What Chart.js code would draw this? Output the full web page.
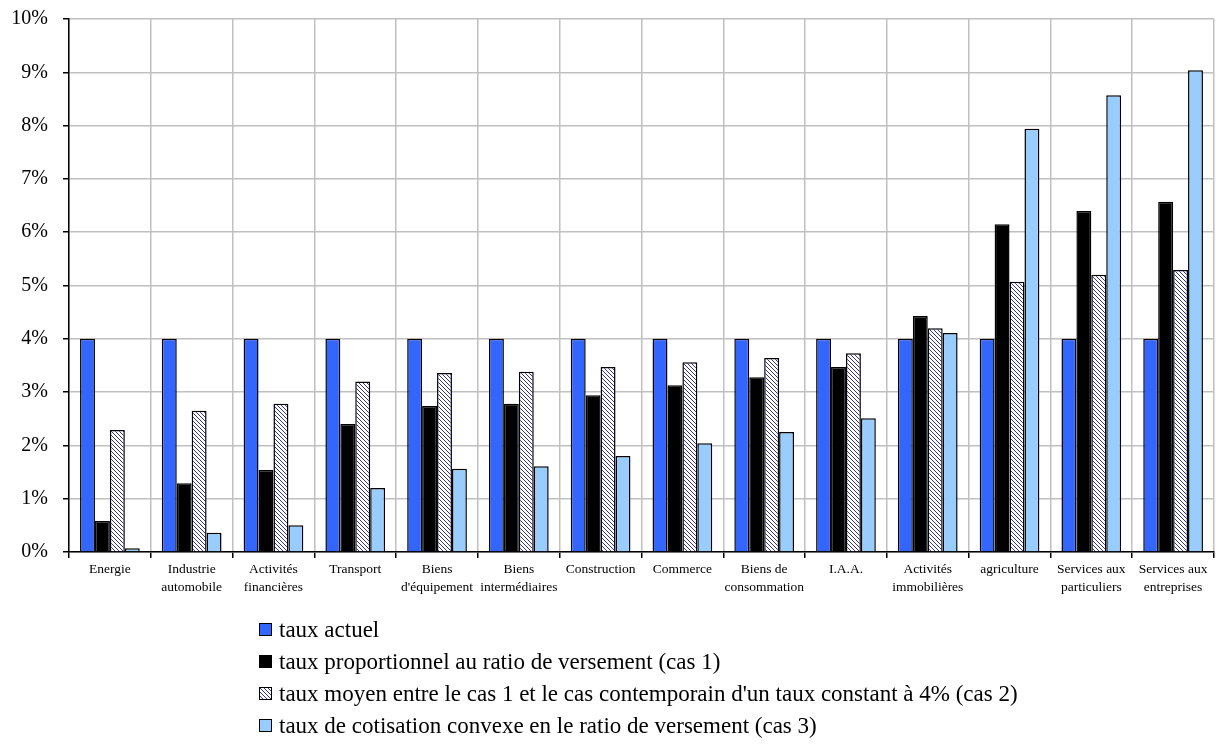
<!DOCTYPE html>
<html lang="fr">
<head>
  <meta charset="UTF-8">
  <title>Taux de cotisation par secteur</title>
  <style>
    body {
      margin: 0;
      background: #ffffff;
    }
  </style>
</head>
<body>
  <canvas id="chart" width="1224" height="744"></canvas>

  <script src="https://cdn.jsdelivr.net/npm/chart.js"></script>
  <script>
    const categories = [
      "Energie", ["Industrie", "automobile"], ["Activités", "financières"], "Transport",
      ["Biens", "d'équipement"], ["Biens", "intermédiaires"], "Construction", "Commerce",
      ["Biens de", "consommation"], "I.A.A.", ["Activités", "immobilières"], "agriculture",
      ["Services aux", "particuliers"], ["Services aux", "entreprises"]
    ];
    const seriesNames = [
      "taux actuel",
      "taux proportionnel au ratio de versement (cas 1)",
      "taux moyen entre le cas 1 et le cas contemporain d'un taux constant à 4% (cas 2)",
      "taux de cotisation convexe en le ratio de versement (cas 3)"
    ];
    const tauxActuel = [4, 4, 4, 4, 4, 4, 4, 4, 4, 4, 4, 4, 4, 4];
    const cas1 = [0.58, 1.29, 1.54, 2.40, 2.74, 2.78, 2.94, 3.13, 3.28, 3.47, 4.43, 6.15, 6.40, 6.57];
    const cas2 = [2.29, 2.65, 2.78, 3.20, 3.36, 3.38, 3.47, 3.56, 3.64, 3.73, 4.20, 5.07, 5.20, 5.29];
    const cas3 = [0.07, 0.36, 0.50, 1.20, 1.56, 1.61, 1.80, 2.04, 2.25, 2.51, 4.11, 7.94, 8.57, 9.04];
    const yTicks = [0, 1, 2, 3, 4, 5, 6, 7, 8, 9, 10];

    // hatch pattern for cas 2
    function makeHatch() {
      const c = document.createElement("canvas");
      c.width = 4; c.height = 4;
      const g = c.getContext("2d");
      g.fillStyle = "#ffffff";
      g.fillRect(0, 0, 4, 4);
      g.strokeStyle = "#333399";
      g.lineWidth = 1;
      g.beginPath();
      g.moveTo(-1, -1); g.lineTo(5, 5);
      g.moveTo(-1, 3); g.lineTo(1, 5);
      g.moveTo(3, -1); g.lineTo(5, 1);
      g.stroke();
      return c;
    }
    const ctx = document.getElementById("chart").getContext("2d");
    const hatch = ctx.createPattern(makeHatch(), "repeat");

    const colors = ["#3366ff", "#000000", hatch, "#99ccff"];
    const values = [tauxActuel, cas1, cas2, cas3];

    const fontFam = "'Liberation Serif', 'DejaVu Serif', serif";

    // legend stacked below the chart, left aligned
    const stackedLegend = {
      id: 'stackedLegend',
      afterDraw(chart) {
        const c = chart.ctx;
        c.save();
        c.font = "23px " + fontFam;
        c.textBaseline = "middle";
        chart.data.datasets.forEach((ds, i) => {
          const y = 630 + i * 32;
          c.fillStyle = ds.backgroundColor;
          c.fillRect(259, y - 7, 13, 13);
          c.strokeStyle = "#000";
          c.lineWidth = 1;
          c.strokeRect(259.5, y - 6.5, 12, 12);
          c.fillStyle = "#000";
          c.fillText(ds.label, 279, y + 1);
        });
        c.restore();
      }
    };

    new Chart(ctx, {
      type: 'bar',
      data: {
        labels: categories,
        datasets: values.map((v, i) => ({
          label: seriesNames[i],
          data: v,
          backgroundColor: colors[i],
          borderColor: "#000000",
          borderWidth: 1.5,
          barPercentage: 1,
          categoryPercentage: 0.73
        }))
      },
      options: {
        responsive: false,
        animation: false,
        layout: { padding: { top: 19, right: 10, left: 0, bottom: 134 } },
        plugins: {
          legend: { display: false },
          tooltip: { enabled: false }
        },
        scales: {
          x: {
            grid: {
              offset: true,
              color: "#c0c0c0",
              lineWidth: 1.5,
              tickColor: "#000000",
              tickLength: 6
            },
            border: { color: "#000000", width: 1.5 },
            ticks: {
              color: "#000000",
              font: { family: fontFam, size: 13.5, lineHeight: 1.35 },
              padding: 2,
              maxRotation: 0,
              autoSkip: false
            },
            afterFit: s => { s.height = 58; s.paddingLeft = 0; s.paddingRight = 0; }
          },
          y: {
            min: 0,
            max: 10,
            afterBuildTicks: s => { s.ticks = yTicks.map(v => ({ value: v })); },
            grid: {
              color: "#c0c0c0",
              lineWidth: 1.5,
              tickColor: "#000000",
              tickLength: 6
            },
            border: { color: "#000000", width: 1.5 },
            ticks: {
              color: "#000000",
              font: { family: fontFam, size: 20 },
              padding: 15,
              callback: v => v + "%"
            },
            afterFit: s => { s.width = 69; s.paddingTop = 0; s.paddingBottom = 0; }
          }
        }
      },
      plugins: [stackedLegend]
    });
  </script>
</body>
</html>
